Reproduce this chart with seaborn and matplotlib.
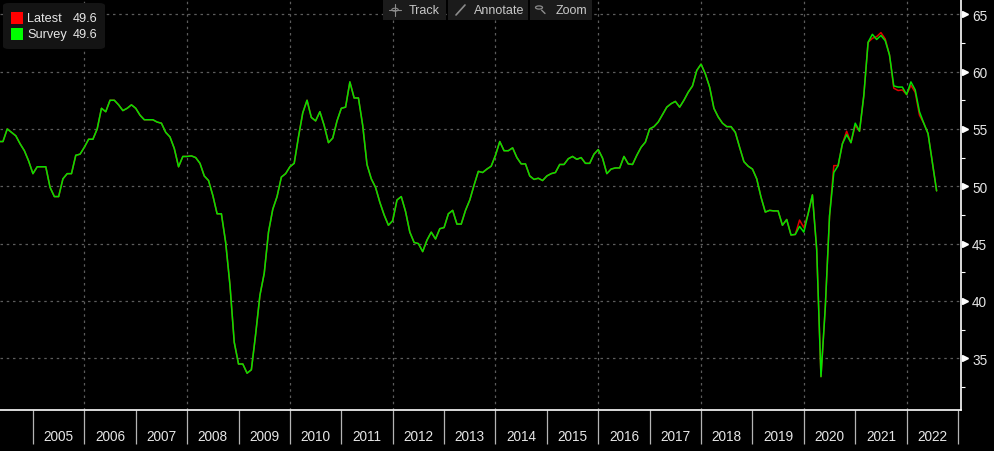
import numpy as np
import pandas as pd
import seaborn as sns
import matplotlib.pyplot as plt
from matplotlib.patches import FancyBboxPatch, Rectangle, Circle
from matplotlib.lines import Line2D

# monthly readings, Apr 2004 .. Jul 2022 (month-end)
start = "2004-04"
latest = [
    53.9, 53.9, 55.0, 54.7, 54.4, 53.7, 53.1, 52.2, 51.1,                      # 2004
    51.7, 51.7, 51.7, 49.9, 49.1, 49.1, 50.65, 51.1, 51.1, 52.7, 52.8, 53.4,    # 2005
    54.1, 54.1, 55.0, 56.8, 56.5, 57.5, 57.5, 57.1, 56.6, 56.8, 57.1, 56.8,     # 2006
    56.2, 55.8, 55.8, 55.8, 55.6, 55.5, 54.7, 54.3, 53.3, 51.7, 52.6, 52.6,     # 2007
    52.65, 52.5, 52.0, 50.9, 50.5, 49.2, 47.6, 47.6, 45.1, 41.4, 36.4, 34.5,    # 2008
    34.5, 33.7, 34.0, 37.1, 40.5, 42.4, 46.0, 48.0, 49.1, 50.8, 51.1, 51.7,     # 2009
    52.0, 54.3, 56.4, 57.5, 56.0, 55.7, 56.5, 55.3, 53.8, 54.2, 55.7, 56.8,     # 2010
    56.9, 59.1, 57.7, 57.7, 55.3, 51.9, 50.65, 49.9, 48.6, 47.5, 46.6, 47.0,    # 2011
    48.8, 49.1, 47.8, 46.0, 45.1, 45.0, 44.3, 45.3, 46.0, 45.4, 46.3, 46.4,     # 2012
    47.6, 47.9, 46.7, 46.7, 47.9, 48.8, 50.1, 51.3, 51.2, 51.5, 51.75, 52.7,    # 2013
    53.9, 53.1, 53.1, 53.35, 52.5, 51.95, 51.95, 50.9, 50.6, 50.7, 50.5, 50.9,  # 2014
    51.1, 51.2, 51.9, 51.9, 52.4, 52.6, 52.35, 52.5, 52.0, 52.0, 52.8, 53.2,    # 2015
    52.45, 51.1, 51.5, 51.6, 51.6, 52.6, 51.95, 51.9, 52.7, 53.4, 53.85, 55.0,  # 2016
    55.2, 55.6, 56.25, 56.9, 57.2, 57.4, 56.9, 57.5, 58.2, 58.75, 60.1, 60.65,  # 2017
    59.8, 58.65, 56.8, 56.05, 55.5, 55.2, 55.2, 54.7, 53.4, 52.15, 51.75, 51.5, # 2018
    50.65, 49.05, 47.75, 47.9, 47.85, 47.85, 46.6, 47.1, 45.75, 45.8, 47.05, 46.4,  # 2019
    47.6, 49.25, 44.5, 33.4, 39.4, 47.4, 51.8, 51.8, 53.7, 54.8, 53.8, 55.3,    # 2020
    54.8, 57.9, 62.55, 62.9, 63.05, 63.4, 62.85, 61.45, 58.55, 58.35, 58.4, 58.0,  # 2021
    58.8, 58.2, 56.2, 55.5, 54.6, 52.1, 49.6,                                   # 2022
]

# months where the survey differs from the latest print
survey_months = ["2019-11", "2019-12", "2020-07", "2020-10", "2020-12",
                 "2021-04", "2021-05", "2021-06", "2021-07", "2021-09",
                 "2021-10", "2021-11", "2022-01", "2022-02", "2022-03"]
survey_values = [46.5, 46.0, 51.2, 54.5, 55.5,
                 63.25, 62.8, 63.15, 62.7, 58.75,
                 58.65, 58.65, 59.1, 58.4, 56.5]

year_labels = list(range(2005, 2023))
y_major = [35, 40, 45, 50, 55, 60, 65]
y_minor = [32.5, 37.5, 42.5, 47.5, 52.5, 57.5, 62.5]

W, H = 995, 452
GREEN = "#00e400"
RED = "#e00000"
GRID = "#5c5c5c"
TXT = "#e6e6e6"
FS = 9.8


def px(x, y):
    # pixel (from top-left) -> figure fraction
    return x / W, 1 - y / H


def main():
    per = pd.period_range(start, periods=len(latest), freq="M")
    df = pd.DataFrame({"period": per.astype(str), "latest": latest})
    df["t"] = per.year + per.month / 12.0
    df["survey"] = df["latest"]
    for m, v in zip(survey_months, survey_values):
        df.loc[df["period"] == m, "survey"] = v

    sns.set_theme(style="dark")
    plt.rcParams["font.family"] = ["Liberation Sans", "DejaVu Sans"]

    fig = plt.figure(figsize=(W / 100, H / 100), dpi=100, facecolor="black")
    ax = fig.add_axes([0, 1 - 411 / H, 961 / W, 411 / H])
    ax.set_facecolor("black")

    # grid (every other year, every 5 points)
    for yr in range(2006, 2023, 2):
        ax.axvline(yr, color=GRID, lw=0.9, ls=(0, (2, 3)), zorder=1)
    for v in y_major:
        ax.axhline(v, color=GRID, lw=0.9, ls=(0, (2, 3)), zorder=1)

    sns.lineplot(data=df, x="t", y="latest", color=RED, lw=1.1, ax=ax, zorder=3)
    sns.lineplot(data=df, x="t", y="survey", color=GREEN, lw=1.1, ax=ax, zorder=4)

    ax.set_xlim(2004.359, 2023.058)
    ax.set_ylim(30.49, 66.33)
    ax.set_xlabel("")
    ax.set_ylabel("")

    for s in ["top", "left"]:
        ax.spines[s].set_visible(False)
    for s in ["right", "bottom"]:
        ax.spines[s].set_visible(True)
        ax.spines[s].set_color("white")
        ax.spines[s].set_linewidth(1.2)

    # x: separators at year boundaries, labels mid-year
    ax.set_xticks(list(range(2005, 2024)))
    ax.set_xticklabels([])
    ax.set_xticks([y + 0.5 for y in year_labels], minor=True)
    ax.set_xticklabels([str(y) for y in year_labels], minor=True)
    ax.tick_params(axis="x", which="both", bottom=True, top=False)
    ax.tick_params(axis="x", which="major", direction="out", length=24.5,
                   width=0.9, color="#b4b4b4")
    ax.tick_params(axis="x", which="minor", length=0, pad=14,
                   labelsize=FS, labelcolor=TXT)

    # y on the right
    ax.yaxis.tick_right()
    ax.set_yticks(y_major)
    ax.set_yticklabels([str(v) for v in y_major])
    ax.set_yticks(y_minor, minor=True)
    ax.tick_params(axis="y", which="both", right=True, left=False)
    ax.tick_params(axis="y", which="major", length=0, pad=8,
                   labelsize=FS, labelcolor=TXT)
    ax.tick_params(axis="y", which="minor", direction="out", length=3,
                   width=0.8, color="white")
    ax.plot([1.0045] * len(y_major), y_major, ls="none", marker=">",
            ms=4.5, color="white", transform=ax.get_yaxis_transform(),
            clip_on=False, zorder=5)

    # legend box
    x0, y0 = px(3, 50)
    x1, y1 = px(105, 4)
    fig.patches.append(FancyBboxPatch((x0, y0), x1 - x0, y1 - y0,
                                      boxstyle="round,pad=0,rounding_size=0.006",
                                      transform=fig.transFigure, fc="#141414",
                                      ec="none", zorder=10))
    rows = [("Latest", latest[-1], "#ff0000", 19.2),
            ("Survey", df["survey"].iloc[-1], "#00ff00", 35.2)]
    for name, val, col, yc in rows:
        sx, sy = px(11, yc + 5.8)
        fig.patches.append(Rectangle((sx, sy), 11.7 / W, 11.7 / H,
                                     transform=fig.transFigure, fc=col,
                                     ec="none", zorder=11))
        fig.text(*px(27, yc), name, color=TXT, fontsize=9.2, va="center",
                 ha="left", zorder=12)
        fig.text(*px(73, yc), f"{val:.1f}", color=TXT, fontsize=9.2,
                 va="center", ha="left", zorder=12)

    # toolbar
    buttons = [("Track", 383, 446, 409), ("Annotate", 448, 528, 474),
               ("Zoom", 530, 592, 556)]
    for label, bx0, bx1, tx in buttons:
        a0, b0 = px(bx0, 21)
        fig.patches.append(Rectangle((a0, b0), (bx1 - bx0) / W, 21 / H,
                                     transform=fig.transFigure, fc="#1b1b1b",
                                     ec="none", zorder=10))
        fig.text(*px(tx, 10.5), label, color="#c8c8c8", fontsize=9,
                 va="center", ha="left", zorder=12)
    ic = "#8c8c8c"
    # crosshair
    cx, cy = 395, 10.7
    fig.patches.append(Circle(px(cx, cy), 3.2 / W, transform=fig.transFigure,
                              fc="none", ec=ic, lw=0.8, zorder=12))
    fig.lines.append(Line2D([px(cx - 6, cy)[0], px(cx + 6, cy)[0]],
                            [px(cx, cy)[1]] * 2, transform=fig.transFigure,
                            color=ic, lw=0.8, zorder=12))
    fig.lines.append(Line2D([px(cx, cy)[0]] * 2,
                            [px(cx, cy - 6)[1], px(cx, cy + 6)[1]],
                            transform=fig.transFigure, color=ic, lw=0.8, zorder=12))
    # pencil
    fig.lines.append(Line2D([px(456, 16)[0], px(465, 6)[0]],
                            [px(456, 16)[1], px(465, 6)[1]],
                            transform=fig.transFigure, color=ic, lw=1.2, zorder=12))
    # magnifier
    mx, my = 539, 8.5
    fig.patches.append(Circle(px(mx, my), 3.5 / W, transform=fig.transFigure,
                              fc="none", ec=ic, lw=0.9, zorder=12))
    fig.lines.append(Line2D([px(mx + 2.6, my + 2.6)[0], px(mx + 6, my + 6)[0]],
                            [px(mx + 2.6, my + 2.6)[1], px(mx + 6, my + 6)[1]],
                            transform=fig.transFigure, color=ic, lw=1.0, zorder=12))

    fig.savefig("out.png", dpi=100, facecolor="black")


if __name__ == "__main__":
    main()
